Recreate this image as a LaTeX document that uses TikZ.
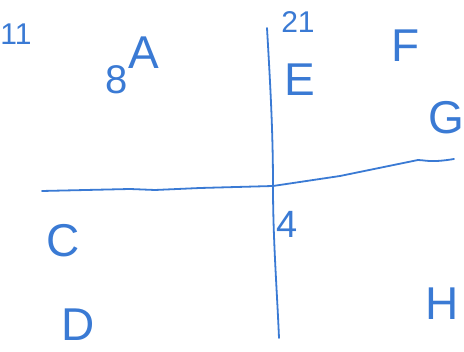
\documentclass[tikz,border=0pt]{standalone}
\usepackage{fontspec}
\setmainfont{Liberation Sans}
\definecolor{pen}{RGB}{58,122,212}
\begin{document}
\begin{tikzpicture}[x=1pt,y=-1pt,
  lbl/.style={text=pen,inner sep=0pt,font=\fontsize{46}{46}\selectfont},
  small/.style={text=pen,inner sep=0pt,font=\fontsize{30}{30}\selectfont},
  penline/.style={draw=pen,line width=1.8pt,line cap=round,line join=round}]
\useasboundingbox[fill=white] (0,0) rectangle (464,352);
% vertical line
\coordinate (vtop) at (267,28);
\coordinate (vmid) at (273,186);
\coordinate (vbot) at (279,338);
\draw[penline] (vtop) .. controls (270,80) and (273,130) .. (vmid) .. controls (273,240) and (277,290) .. (vbot);
% horizontal line
\coordinate (hl) at (42,191);
\coordinate (h1) at (130,189);
\coordinate (h2) at (155,190);
\coordinate (h3) at (200,188);
\coordinate (hmid) at (273,186);
\coordinate (h4) at (340,176);
\coordinate (h5) at (418,160);
\coordinate (hr) at (454,159);
\draw[penline] (hl) -- (h1) -- (h2) -- (h3) -- (hmid) -- (h4) -- (h5) .. controls (425,160) and (430,163) .. (hr);
% labels
\node[small] (n11) at (16,34) {11};
\node[lbl] (A) at (144,53) {A};
\node[small,font=\fontsize{40}{40}\selectfont] (n8) at (117,80) {8};
\node[small] (n21) at (298,22) {21};
\node[lbl] (E) at (300,80) {E};
\node[lbl] (F) at (406,46) {F};
\node[lbl] (G) at (446,118) {G};
\node[lbl] (C) at (63,241) {C};
\node[lbl] (D) at (78,325) {D};
\node[small,font=\fontsize{38}{38}\selectfont] (n4) at (287,224) {4};
\node[lbl] (H) at (442,304) {H};
\end{tikzpicture}
\end{document}
